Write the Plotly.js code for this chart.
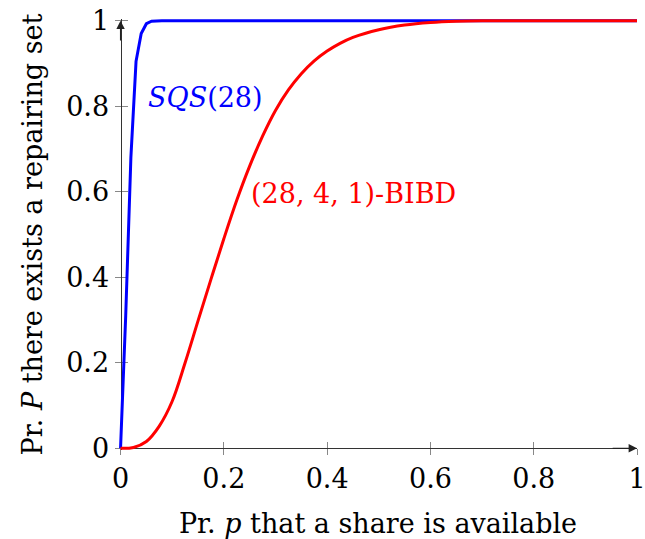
<!DOCTYPE html>
<html>
<head>
<meta charset="utf-8">
<script src="https://cdn.plot.ly/plotly-3.0.1.min.js"></script>
<style>html,body{margin:0;padding:0;background:#fff;}#chart{width:645px;height:539px;}</style>
</head>
<body>
<div id="chart"></div>
<script>
// SQS(28) curve
const sqsP = [0, 0.01, 0.02, 0.03, 0.04, 0.05, 0.06, 0.07, 0.08, 0.1, 0.2, 0.4, 0.6, 0.8, 1];
const sqsVal = [0, 0.31, 0.68, 0.905, 0.97, 0.993, 0.999, 1, 1, 1, 1, 1, 1, 1, 1];
// (28,4,1)-BIBD curve
const bibdP = [0, 0.025, 0.05, 0.075, 0.1, 0.125, 0.15, 0.175, 0.2, 0.225, 0.25, 0.275, 0.3, 0.325, 0.35, 0.375, 0.4, 0.425, 0.45, 0.5, 0.55, 0.6, 0.65, 0.7, 0.8, 0.9, 1];
const bibdVal = [0, 0.002, 0.016, 0.052, 0.11, 0.2, 0.298, 0.395, 0.49, 0.58, 0.66, 0.73, 0.79, 0.838, 0.876, 0.906, 0.929, 0.947, 0.961, 0.979, 0.99, 0.996, 0.999, 1, 1, 1, 1];
const tickVals = [0, 0.2, 0.4, 0.6, 0.8, 1];
const sqsLabel = "<i>SQS</i>(28)";
const bibdLabel = "(28, 4, 1)-BIBD";
const xTitle = "Pr. <i>p</i> that a share is available";
const yTitle = "Pr. <i>P</i> there exists a repairing set";

const FONT = '"DejaVu Serif", serif';
const FS = 27;
const xr = [-0.003, 1];
const yr = [-0.004, 1.004];
const xPos = (0 - yr[0]) / (yr[1] - yr[0]);
const yPos = (0 - xr[0]) / (xr[1] - xr[0]);

const traces = [
  {x: sqsP, y: sqsVal, mode: 'lines', line: {color: '#0000ff', width: 3}, hoverinfo: 'skip', showlegend: false},
  {x: bibdP, y: bibdVal, mode: 'lines', line: {color: '#ff0000', width: 3, shape: 'spline', smoothing: 1}, hoverinfo: 'skip', showlegend: false},
  {x: [], y: [], xaxis: 'x2', yaxis: 'y2', mode: 'lines', hoverinfo: 'skip', showlegend: false}
];

const tickFont = {family: FONT, size: FS, color: '#000'};
const layout = {
  width: 645, height: 539,
  margin: {l: 119, r: 8, t: 19, b: 89, pad: 0},
  paper_bgcolor: '#fff', plot_bgcolor: '#fff',
  font: {family: FONT},
  showlegend: false,
  xaxis: {
    range: xr, anchor: 'free', position: xPos,
    tickvals: tickVals, ticks: 'outside', ticklen: 6, tickcolor: '#888', tickwidth: 1,
    showline: true, linecolor: '#333', linewidth: 1.2,
    showgrid: false, zeroline: false, layer: 'below traces',
    tickfont: tickFont, ticklabelstandoff: 0, ticklabeloverflow: 'allow',
    title: {text: xTitle, font: {family: FONT, size: FS, color: '#000'}, standoff: 22}
  },
  yaxis: {
    range: yr, anchor: 'free', position: yPos,
    tickvals: tickVals, ticks: 'outside', ticklen: 6, tickcolor: '#888', tickwidth: 1,
    showline: true, linecolor: '#333', linewidth: 1.2,
    showgrid: false, zeroline: false, layer: 'below traces',
    tickfont: tickFont, ticklabeloverflow: 'allow',
    title: {text: yTitle, font: {family: FONT, size: FS, color: '#000'}, standoff: 14}
  },
  xaxis2: {
    range: xr, overlaying: 'x', anchor: 'free', position: xPos,
    tickvals: tickVals, ticks: 'inside', ticklen: 6, tickcolor: '#888', tickwidth: 1,
    showticklabels: false, showline: false, showgrid: false, zeroline: false, layer: 'below traces'
  },
  yaxis2: {
    range: yr, overlaying: 'y', anchor: 'free', position: yPos,
    tickvals: tickVals, ticks: 'inside', ticklen: 6, tickcolor: '#888', tickwidth: 1,
    showticklabels: false, showline: false, showgrid: false, zeroline: false, layer: 'below traces'
  },
  annotations: [
    {x: 1, y: 0, ax: 0.95, ay: 0, xref: 'x', yref: 'y', axref: 'x', ayref: 'y', text: '', showarrow: true,
     arrowhead: 2, arrowsize: 1.4, arrowwidth: 1.2, arrowcolor: '#222'},
    {x: 0, y: 1, ax: 0, ay: 0.95, xref: 'x', yref: 'y', axref: 'x', ayref: 'y', text: '', showarrow: true,
     arrowhead: 2, arrowsize: 1.4, arrowwidth: 1.2, arrowcolor: '#222'},
    {x: 0.05, y: 0.82, xref: 'x', yref: 'y', text: sqsLabel, showarrow: false, xanchor: 'left', yanchor: 'middle',
     font: {family: FONT, size: FS, color: '#0000ff'}},
    {x: 0.249, y: 0.597, xref: 'x', yref: 'y', text: bibdLabel, showarrow: false, xanchor: 'left', yanchor: 'middle',
     font: {family: FONT, size: FS, color: '#ff0000'}}
  ]
};

Plotly.newPlot('chart', traces, layout, {staticPlot: true, displayModeBar: false});
</script>
</body>
</html>
